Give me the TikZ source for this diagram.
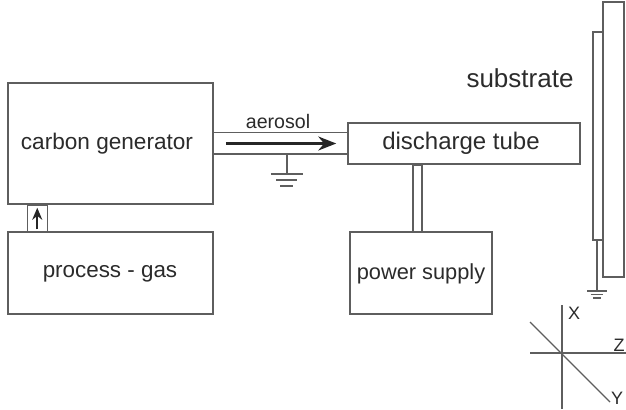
\documentclass[tikz,border=0pt]{standalone}
\usepackage{fontspec}
\setmainfont{Liberation Sans}
\usetikzlibrary{arrows.meta}

\definecolor{ink}{HTML}{2B2B2B}
\definecolor{wire}{HTML}{5E5E5E}

\begin{document}
\begin{tikzpicture}[x=0.5pt, y=-0.5pt, text=ink]
\tikzset{
  box/.style={draw=wire, line width=0.75pt, fill=white, inner sep=0pt},
  pipe/.style={draw=wire, line width=0.75pt},
  flow/.style={draw=black!85, line width=1.2pt, -{Stealth[length=9pt, width=7pt]}},
  feed/.style={draw=black!85, line width=1pt, -{Stealth[length=6pt, width=5pt]}},
  axis/.style={draw=wire, line width=0.6pt},
  txt/.style={font=\fontsize{#1}{#1}\selectfont, inner sep=0pt},
  earth/.pic={
    \draw[pipe] (-16,0) -- (16,0);
    \draw[pipe] (-10.5,6) -- (10.5,6);
    \draw[pipe] (-6.5,12) -- (6.5,12);}}
\useasboundingbox (0,0) rectangle (626,409);

% ---------------- gas supply and generator ----------------
\node[box, minimum width=102.5pt, minimum height=60.5pt] (gen) at (110.5,143.5) {};
\node[txt=11.3] (genlab) at (107,144) {carbon generator};
\node[box, minimum width=102.5pt, minimum height=41pt] (gas) at (110.5,273) {};
\node[txt=11.2] (gaslab) at (110,274) {process - gas};

\draw[pipe] ([xshift=10pt]gen.south west) rectangle ([xshift=20pt]gas.north west);
\draw[feed] ([xshift=15pt, yshift=1pt]gas.north west) -- ([xshift=15pt, yshift=-1.5pt]gen.south west);

% ---------------- aerosol line to the discharge tube ----------------
\node[box, minimum width=116pt, minimum height=20.5pt] (tube) at (464,143.5) {};
\node[txt=12] (tubelab) at (461,143) {discharge tube};

\draw[pipe] ([yshift=5.5pt]gen.east) -- ([yshift=5.5pt]tube.west);
\draw[pipe] ([yshift=-5.25pt]gen.east) -- ([yshift=-5.25pt]tube.west);
\draw[flow] ([xshift=6pt]gen.east) -- ([xshift=-5.5pt]tube.west);
\node[txt=9.8] (aerolab) at (278,121) {aerosol};

\draw[pipe] ([xshift=36.5pt, yshift=-5.25pt]gen.east) -- ++(0,20) pic{earth};

% ---------------- power supply ----------------
\node[box, minimum width=71pt, minimum height=41pt] (power) at (421,273) {};
\node[txt=10.9] (powerlab) at (421,274) {power supply};
\draw[pipe] ([xshift=-4pt]power.north) rectangle ([xshift=0.5pt]power.north |- tube.south);

% ---------------- substrate with electrode ----------------
\node[box, minimum width=10.5pt, minimum height=137.5pt] (plate) at (613.5,139.5) {};
\node[box, minimum width=5pt, minimum height=104pt] (electrode) at (598,136) {};
\node[txt=13] (sublab) at (520,78) {substrate};
\draw[pipe] ([xshift=-0.5pt]electrode.south) -- ++(0,50) pic[scale=0.6]{earth};

% ---------------- axes ----------------
\draw[axis] (562,305) -- (562,409);
\draw[axis] (530,353) -- (626,353);
\draw[axis] (530,322) -- (610,402);
\node[txt=9] (xlab) at (574,313) {X};
\node[txt=9] (zlab) at (619,345) {Z};
\node[txt=9] (ylab) at (617,398) {Y};
\end{tikzpicture}
\end{document}
